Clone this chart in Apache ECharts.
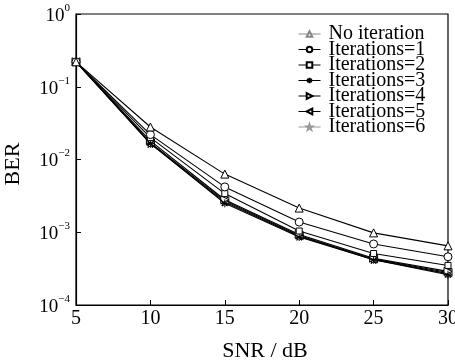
<!DOCTYPE html>
<html><head><meta charset="utf-8">
<script src="https://cdn.jsdelivr.net/npm/echarts@6/dist/echarts.min.js"></script>
<style>html,body{margin:0;padding:0;background:#fff}#c{width:455px;height:363px}</style>
</head><body><div id="c"></div>
<script>
const snr = [5, 10, 15, 20, 25, 30];
const noIteration = [0.22, 0.028, 0.0063, 0.00215, 0.00098, 0.00065];
const iter1 = [0.22, 0.022, 0.0042, 0.00138, 0.00069, 0.00046];
const iter2 = [0.22, 0.02, 0.0034, 0.00104, 0.00051, 0.00035];
const iter3 = [0.22, 0.0165, 0.0025, 0.00086, 0.00042, 0.00026];
const iter4 = [0.22, 0.018, 0.0028, 0.00093, 0.00044, 0.00029];
const iter5 = [0.22, 0.017, 0.0027, 0.0009, 0.00043, 0.00028];
const iter6 = [0.22, 0.0165, 0.0026, 0.00088, 0.00042, 0.00027];
const names = ['No iteration','Iterations=1','Iterations=2','Iterations=3','Iterations=4','Iterations=5','Iterations=6'];
const values = [noIteration, iter1, iter2, iter3, iter4, iter5, iter6];

const star = 'path://M0,-10L0,10M-8.7,-5L8.7,5M-8.7,5L8.7,-5M-10,0L10,0';
const pent = 'path://M0,-10L2.35,-3.24L9.51,-3.09L3.8,1.24L5.88,8.09L0,4L-5.88,8.09L-3.8,1.24L-9.51,-3.09L-2.35,-3.24Z';
const symbols = ['triangle','circle','rect',star,'triangle','triangle',pent];
const rotates = [0,0,0,0,-90,90,0];
const sizes = [8,8,6,8,8,8,8];
const colors = ['#000','#000','#000','#000','#000','#000','#000'];
const legendColors = ['#888','#000','#000','#000','#000','#000','#999'];

const font = '"Liberation Serif", "Times New Roman", serif';
const supMap = {'0':'0','-1':'−1','-2':'−2','-3':'−3','-4':'−4'};

const series = names.map((n,i)=>({
  name:n, type:'line', data: snr.map((x,j)=>[x, values[i][j]]),
  symbol: symbols[i], symbolRotate: rotates[i], symbolSize: sizes[i],
  showSymbol:true,
  lineStyle:{color:colors[i], width:1.1},
  itemStyle:{color:'#fff', borderColor:colors[i], borderWidth:1},
  emphasis:{disabled:true}, animation:false, z: 10-i
}));

const chart = echarts.init(document.getElementById('c'), null, {renderer:'canvas'});
chart.setOption({
  backgroundColor:'#fff',
  animation:false,
  grid:{left:76, right:7, top:14, bottom:58, outerBoundsMode:'none', containLabel:false, show:true, borderColor:'#000', borderWidth:1.2, backgroundColor:'transparent'},
  legend:{
    orient:'vertical', left:293, top:19, itemGap:-4.5, itemWidth:22, itemHeight:7,
    textStyle:{fontFamily:font, fontSize:20, color:'#000', padding:[0,0,0,3]},
    data: names.map((n,i)=>({name:n, itemStyle:{color:'#fff', borderColor:legendColors[i]}, lineStyle:{color:legendColors[i], width:1}}))
  },
  xAxis:{
    type:'value', min:5, max:30, interval:5,
    name:'SNR / dB', nameLocation:'middle', nameGap:35,
    nameTextStyle:{fontFamily:font, fontSize:22, color:'#000', padding:[0,0,0,6]},
    axisLine:{lineStyle:{color:'#000', width:1.2}},
    axisTick:{inside:true, length:5, lineStyle:{color:'#000'}},
    axisLabel:{fontFamily:font, fontSize:20, color:'#000', margin:4},
    splitLine:{show:false}
  },
  yAxis:{
    type:'log', logBase:10, min:1e-4, max:1,
    name:'BER', nameLocation:'middle', nameGap:52, nameRotate:90,
    nameTextStyle:{fontFamily:font, fontSize:22, color:'#000', padding:[0,0,0,-9]},
    axisLine:{lineStyle:{color:'#000', width:1.2}},
    axisTick:{inside:true, length:5, lineStyle:{color:'#000'}},
    axisLabel:{
      margin:6,
      formatter:(v)=>{const e=Math.round(Math.log10(v)); return '{b|10}{s|'+(supMap[String(e)]||e)+'}';},
      rich:{
        b:{fontFamily:font, fontSize:19, color:'#000', verticalAlign:'bottom', padding:[4,0,0,0]},
        s:{fontFamily:font, fontSize:11, color:'#000', verticalAlign:'top', padding:[0,0,10,0]}
      }
    },
    splitLine:{show:false}
  },
  series: series
});
</script></body></html>
